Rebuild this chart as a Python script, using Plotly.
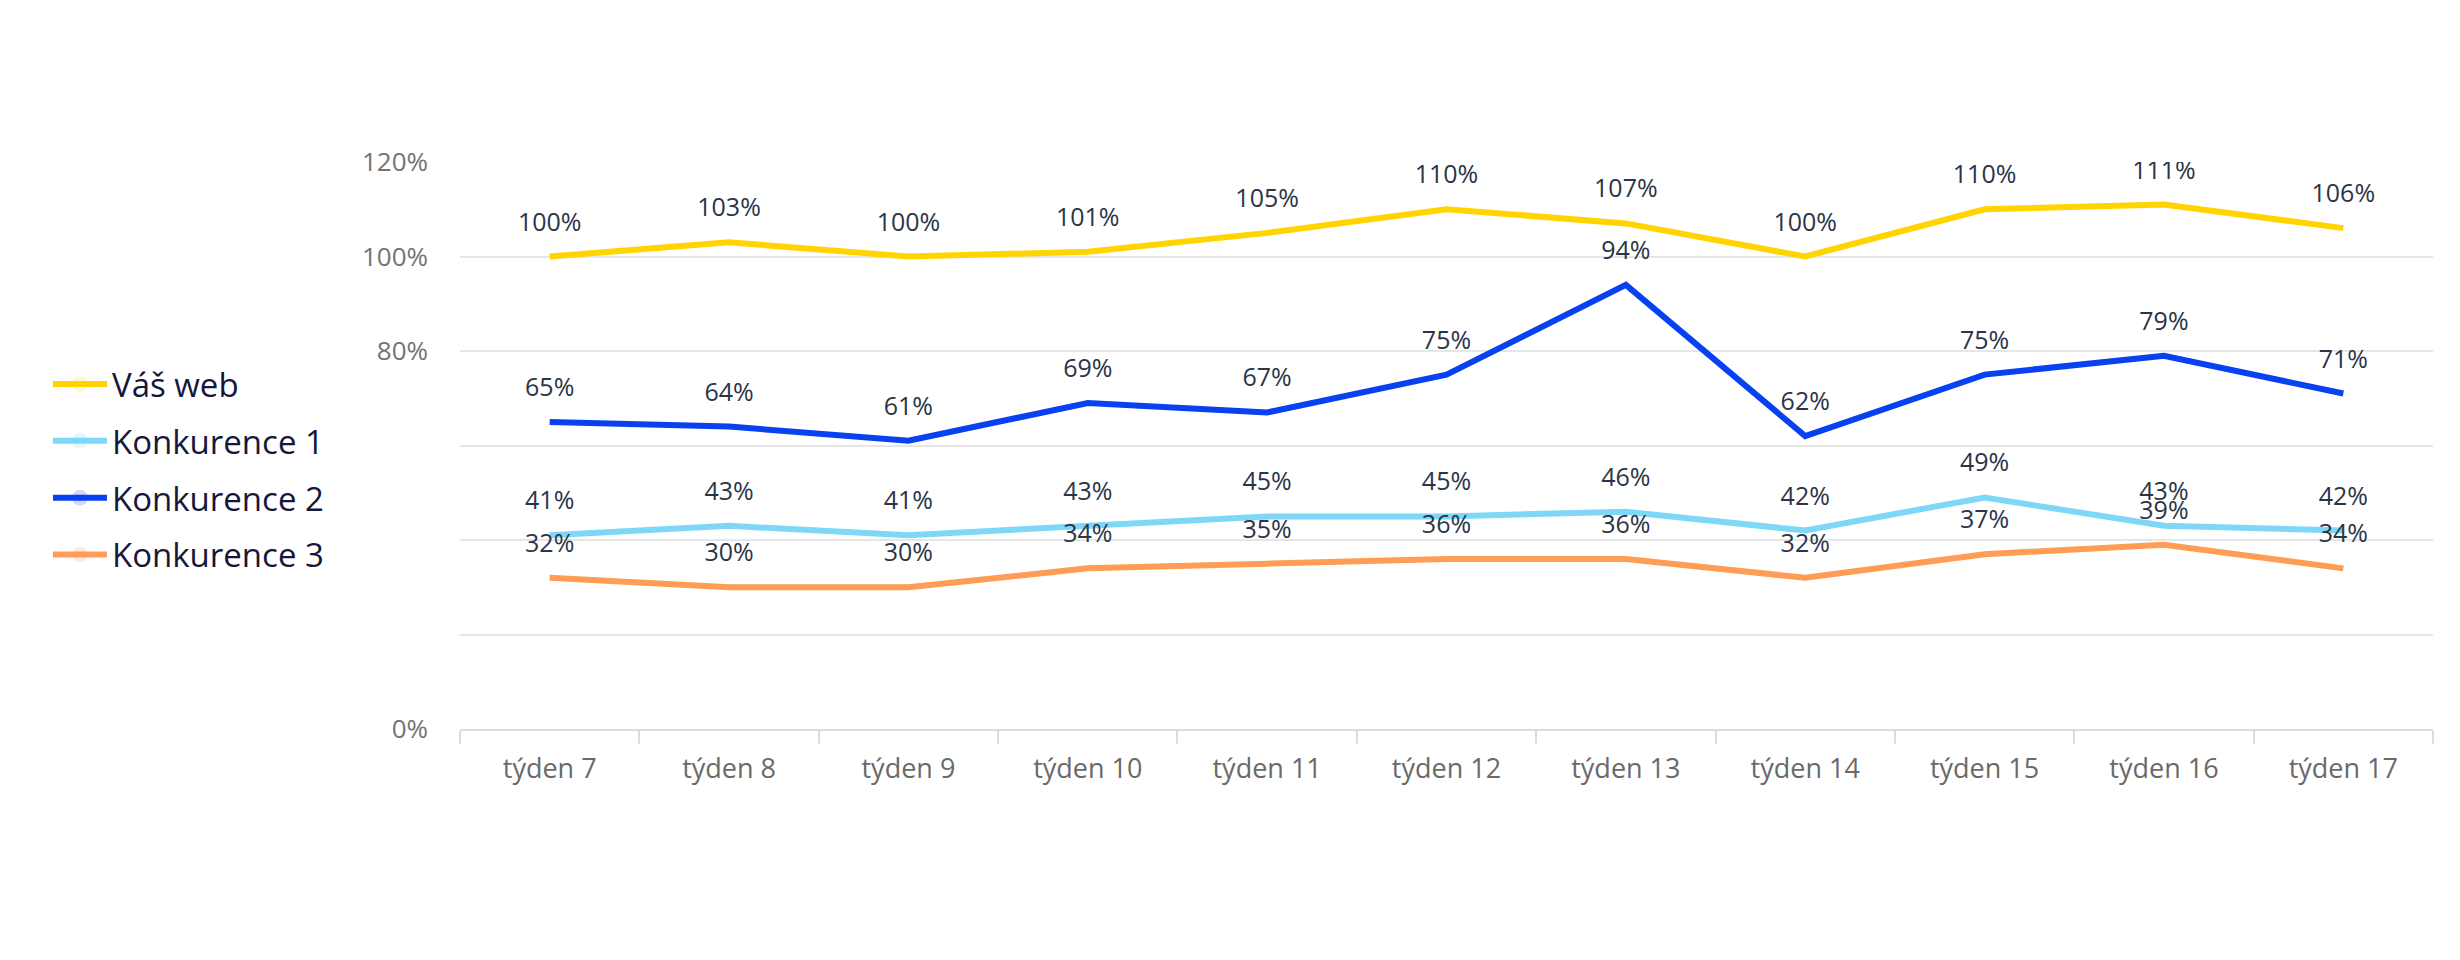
import plotly.graph_objects as go

weeks = ["týden 7", "týden 8", "týden 9", "týden 10", "týden 11", "týden 12",
         "týden 13", "týden 14", "týden 15", "týden 16", "týden 17"]

vas_web = [100, 103, 100, 101, 105, 110, 107, 100, 110, 111, 106]
konkurence_1 = [41, 43, 41, 43, 45, 45, 46, 42, 49, 43, 42]
konkurence_2 = [65, 64, 61, 69, 67, 75, 94, 62, 75, 79, 71]
konkurence_3 = [32, 30, 30, 34, 35, 36, 36, 32, 37, 39, 34]

series_names = ["Váš web", "Konkurence 1", "Konkurence 2", "Konkurence 3"]
series_values = [vas_web, konkurence_1, konkurence_2, konkurence_3]
series_colors = ["#FFD400", "#7FD7F7", "#0841F0", "#FF9C55"]

y_tickvals = [0, 0.2, 0.4, 0.6, 0.8, 1.0, 1.2]
y_ticktext = ["0%", "", "", "", "80%", "100%", "120%"]

FONT = "Open Sans"

fig = go.Figure()
for name, vals, col in zip(series_names, series_values, series_colors):
    fig.add_trace(go.Scatter(
        x=weeks,
        y=[v / 100 for v in vals],
        name=name,
        legendgroup=name,
        mode="lines+markers+text",
        line=dict(color=col, width=6),
        marker=dict(size=30, opacity=0, color=col),
        text=[f"{v}%" for v in vals],
        textposition="top center",
        textfont=dict(family=FONT, size=25, color="#2B3547"),
        hoverinfo="skip",
    ))

fig.update_layout(
    width=2452, height=952,
    paper_bgcolor="white", plot_bgcolor="white",
    margin=dict(l=452, r=27, t=154, b=231),
    font=dict(family=FONT),
    showlegend=True,
    legend=dict(
        xref="container", yref="container",
        x=0.0163, y=0.6345, xanchor="left", yanchor="top",
        font=dict(family=FONT, size=33, color="#15173D"),
        traceorder="grouped", tracegroupgap=11,
        itemwidth=54,
        bgcolor="rgba(0,0,0,0)",
    ),
    xaxis=dict(
        type="category",
        tickson="boundaries",
        ticks="outside", ticklen=13, tickcolor="#DCDCDC", tickwidth=1.5,
        showline=True, linecolor="#DCDCDC", linewidth=2,
        showgrid=False,
        ticklabelstandoff=15,
        tickfont=dict(family=FONT, size=27, color="#6A6A6A"),
        range=[-0.5, 10.5],
    ),
    yaxis=dict(
        range=[0, 1.2],
        tickvals=y_tickvals, ticktext=y_ticktext,
        showgrid=True, gridcolor="#E6E6E6", gridwidth=1.5,
        zeroline=False, showline=False,
        ticks="", ticklabelstandoff=31,
        tickfont=dict(family=FONT, size=26, color="#747474"),
    ),
)

fig.write_html("out.html")
